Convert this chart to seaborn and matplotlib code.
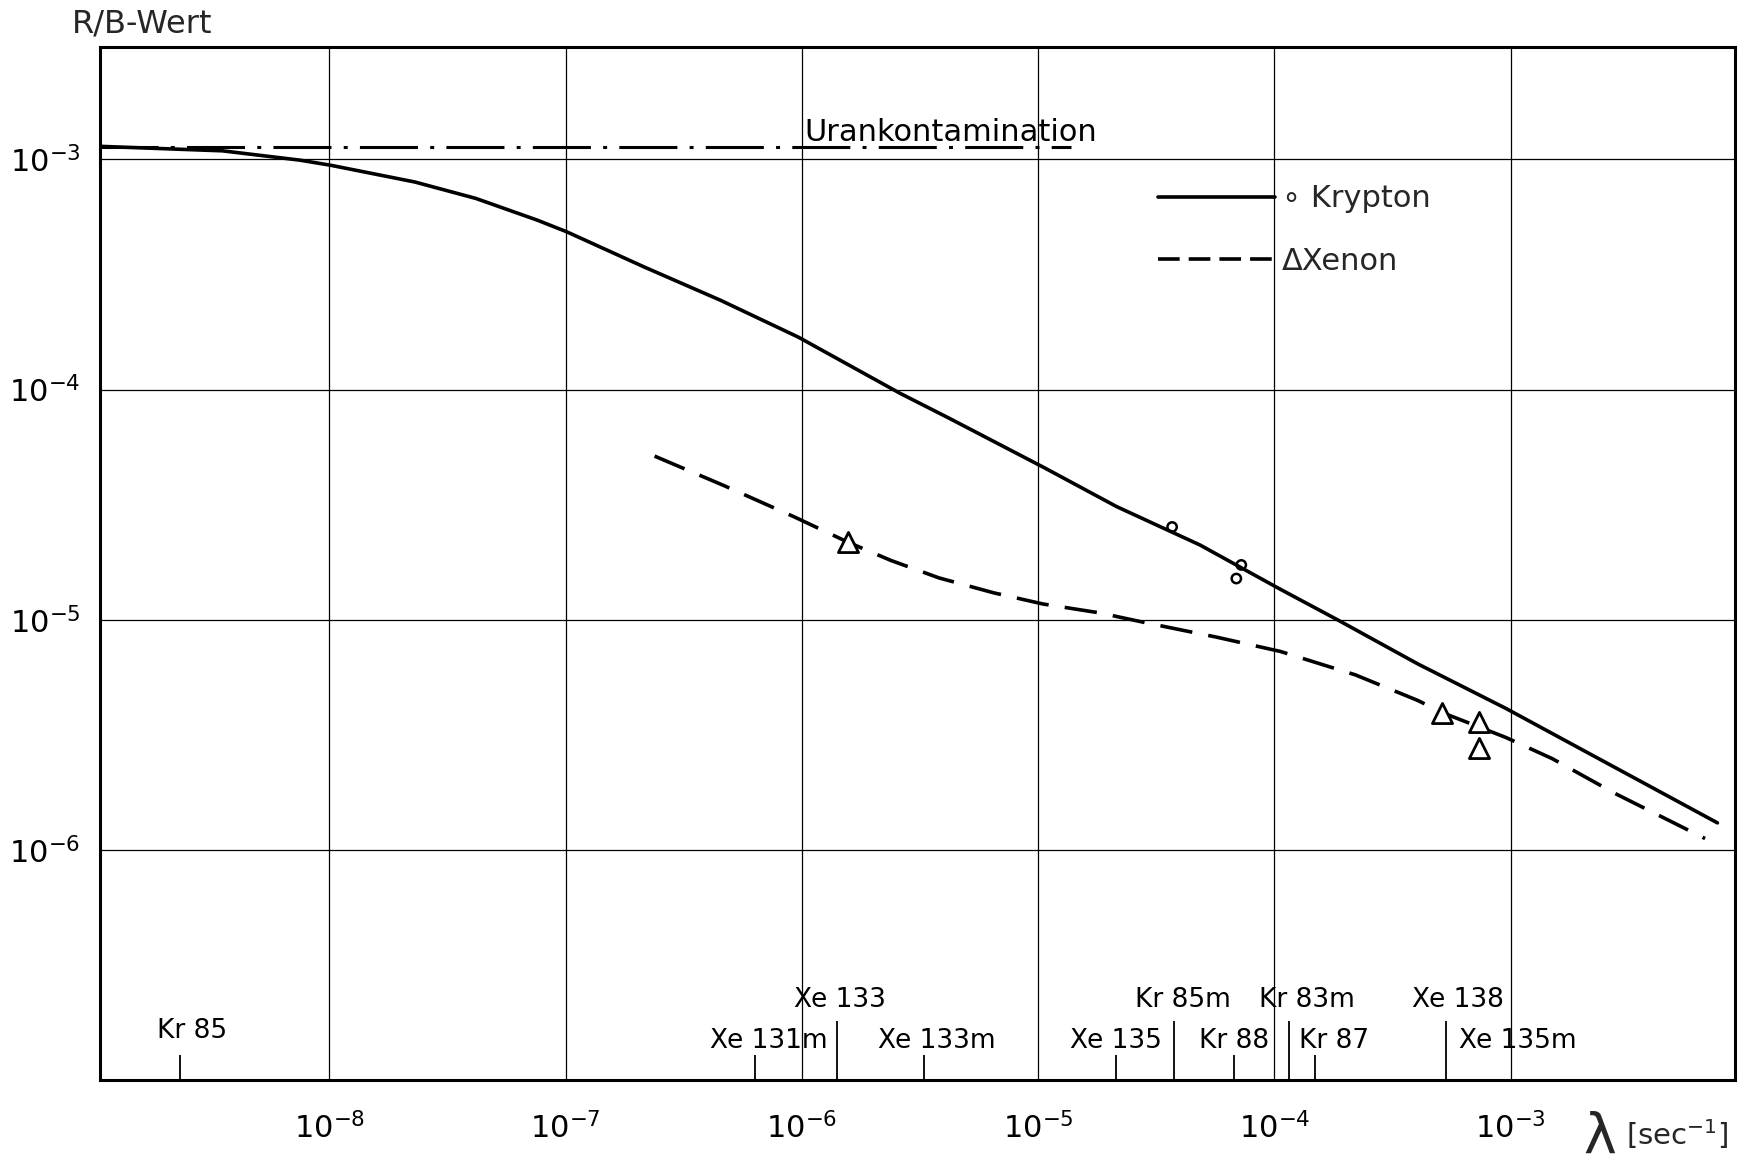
import numpy as np
import pandas as pd
import matplotlib
matplotlib.use("Agg")
import matplotlib.pyplot as plt
import seaborn as sns
from matplotlib.lines import Line2D

# ---------------- data ----------------
kr_lam = [1.07e-9, 3.53e-9, 7.5e-9, 1.01e-8, 2.30e-8, 4.17e-8, 7.58e-8, 1.01e-7,
          2.15e-7, 4.54e-7, 9.66e-7, 2.60e-6, 4.23e-6, 1.06e-5, 2.15e-5, 4.85e-5,
          1.04e-4, 1.87e-4, 4.04e-4, 9.53e-4, 2.08e-3, 7.50e-3]
kr_rb = [1.14e-3, 1.09e-3, 9.93e-4, 9.44e-4, 7.98e-4, 6.77e-4, 5.45e-4, 4.85e-4,
         3.41e-4, 2.44e-4, 1.69e-4, 9.64e-5, 7.48e-5, 4.58e-5, 3.10e-5, 2.11e-5,
         1.37e-5, 9.93e-6, 6.43e-6, 4.12e-6, 2.67e-6, 1.31e-6]

xe_lam = [2.38e-7, 4.67e-7, 9.27e-7, 1.57e-6, 2.38e-6, 3.80e-6, 6.46e-6, 1.05e-5,
          1.83e-5, 2.83e-5, 5.66e-5, 1.06e-4, 2.20e-4, 4.04e-4, 5.13e-4, 9.53e-4,
          1.50e-3, 2.76e-3, 6.65e-3]
xe_rb = [5.14e-5, 3.83e-5, 2.80e-5, 2.17e-5, 1.81e-5, 1.52e-5, 1.31e-5, 1.17e-5,
         1.07e-5, 9.72e-6, 8.41e-6, 7.28e-6, 5.76e-6, 4.46e-6, 3.95e-6, 3.08e-6,
         2.49e-6, 1.76e-6, 1.12e-6]

kr_meas_lam = [3.69e-5, 7.24e-5, 6.90e-5]
kr_meas_rb = [2.53e-5, 1.73e-5, 1.51e-5]
xe_meas_lam = [1.57e-6, 5.13e-4, 7.33e-4, 7.33e-4]
xe_meas_rb = [2.18e-5, 3.95e-6, 3.61e-6, 2.76e-6]

uran_lam = [1.07e-9, 1.38e-5]
uran_level = 1.13e-3

iso_names = ["Kr 85", "Xe 131m", "Xe 133", "Xe 133m", "Xe 135", "Kr 85m",
             "Kr 88", "Kr 83m", "Kr 87", "Xe 138", "Xe 135m"]
iso_lam = [2.33e-9, 6.32e-7, 1.41e-6, 3.3e-6, 2.13e-5, 3.75e-5,
           6.74e-5, 1.15e-4, 1.49e-4, 5.3e-4, 7.6e-4]
iso_tick = ["short", "short", "tall", "short", "short", "tall",
            "short", "tall", "short", "tall", "none"]

x_ticks = [1e-8, 1e-7, 1e-6, 1e-5, 1e-4, 1e-3]
y_ticks = [1e-6, 1e-5, 1e-4, 1e-3]

# ---------------- layout ----------------
sns.set_theme(style="white")
plt.rcParams["font.family"] = ["DejaVu Sans"]
plt.rcParams["mathtext.fontset"] = "dejavusans"

W, H = 1746, 1167
fig, ax = plt.subplots(figsize=(W / 100, H / 100), dpi=100)
fig.subplots_adjust(left=100 / W, right=1735 / W, top=1 - 47 / H, bottom=1 - 1080 / H)
ax.set_xscale("log")
ax.set_yscale("log")

df = pd.concat([
    pd.DataFrame({"lam": kr_lam, "rb": kr_rb, "gas": "Krypton"}),
    pd.DataFrame({"lam": xe_lam, "rb": xe_rb, "gas": "Xenon"}),
])
sns.lineplot(data=df, x="lam", y="rb", style="gas",
             dashes={"Krypton": "", "Xenon": (9, 4.5)},
             color="black", linewidth=2.6, sort=False, estimator=None,
             legend=False, ax=ax, zorder=3)

sns.lineplot(x=uran_lam, y=[uran_level] * len(uran_lam), color="black",
             linewidth=2.2, linestyle=(0, (19, 4, 1.3, 4)), ax=ax, zorder=3)

sns.scatterplot(x=kr_meas_lam, y=kr_meas_rb, marker="o", s=45,
                facecolor="none", edgecolor="black", linewidth=1.8, ax=ax, zorder=4)
sns.scatterplot(x=xe_meas_lam, y=xe_meas_rb, marker="^", s=210,
                facecolor="white", edgecolor="black", linewidth=2.0, ax=ax, zorder=4)

ax.set_xlim(1.07e-9, 8.9e-3)
ax.set_ylim(1e-7, 3.08e-3)
ax.set_xticks(x_ticks)
ax.set_yticks(y_ticks)
ax.minorticks_off()
ax.set_xlabel("")
ax.set_ylabel("")
ax.grid(True, which="major", color="black", linewidth=0.9)
ax.set_axisbelow(True)
for s in ax.spines.values():
    s.set_color("black")
    s.set_linewidth(2.2)
ax.tick_params(axis="x", which="major", direction="out", length=15, width=1.3,
               pad=8, labelsize=22, colors="black")
ax.tick_params(axis="y", which="major", direction="out", length=10, width=1.3,
               pad=4, labelsize=22, colors="black")

# isotope markers along the bottom
trans = ax.get_xaxis_transform()
tick_h = {"short": 0.024, "tall": 0.057}
label_y = {"short": 0.038, "tall": 0.077, "none": 0.038}
label_off = {"Kr 85": (12, 10), "Xe 131m": (14, 0), "Xe 133": (3, 0),
             "Xe 133m": (12, 0), "Xe 135": (0, 0), "Kr 85m": (9, 0),
             "Kr 88": (0, 0), "Kr 83m": (18, 0), "Kr 87": (19, 0),
             "Xe 138": (12, 0), "Xe 135m": (35, 0)}
for name, lam, kind in zip(iso_names, iso_lam, iso_tick):
    if kind in tick_h:
        ax.vlines(lam, 0, tick_h[kind], transform=trans, color="black", linewidth=1.3)
    dx, dy = label_off[name]
    ax.annotate(name, xy=(lam, label_y[kind]), xycoords=trans, xytext=(dx, dy),
                textcoords="offset pixels", ha="center", va="center", fontsize=19,
                color="black")

ax.annotate("Urankontamination", xy=(1.02e-6, uran_level), xytext=(0, 6),
            textcoords="offset pixels", ha="left", va="baseline", fontsize=22,
            color="black")

handles = [Line2D([], [], color="black", linewidth=2.6),
           Line2D([], [], color="black", linewidth=2.6, dashes=(6, 2.5))]
ax.legend(handles, ["\u2218 Krypton", "\u0394Xenon"], loc="upper left",
          bbox_to_anchor=(0.647, 0.867), frameon=False, fontsize=22,
          handlelength=3.85, handletextpad=0.2, labelspacing=1.1,
          borderpad=0, borderaxespad=0)

fig.text(72 / W, 1 - 24 / H, "R/B-Wert", ha="left", va="center", fontsize=23)
fig.text(1600 / W, 1 - 1138 / H, "\u03bb", ha="center", va="center", fontsize=40)
fig.text(1626 / W, 1 - 1134 / H, "[sec$^{-1}$]", ha="left", va="center", fontsize=21)

fig.savefig("out.png", dpi=100)
